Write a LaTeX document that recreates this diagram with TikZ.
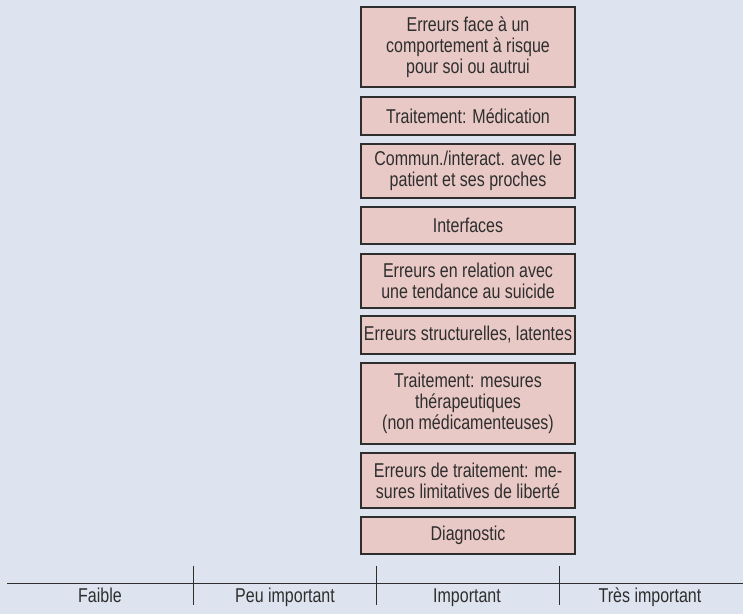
\documentclass[tikz,border=0pt]{standalone}
\usepackage{fontspec}
\setmainfont{Liberation Sans}[FakeStretch=0.8]
\definecolor{bgblue}{HTML}{DEE4EF}
\definecolor{boxfill}{HTML}{E8C9C5}
\definecolor{inkgray}{HTML}{2E2E2E}
\tikzset{
  errbox/.style={draw=inkgray, line width=1.2pt, fill=boxfill, minimum width=214pt,
    inner sep=0pt, align=center, font=\fontsize{20}{21}\selectfont, text=inkgray},
  axisline/.style={draw=inkgray, line width=1pt},
  scalelabel/.style={font=\fontsize{20}{21}\selectfont, text=inkgray, anchor=base}
}
\begin{document}
\begin{tikzpicture}[x=1pt,y=-1pt]
  \fill[bgblue] (0,0) rectangle (743,614);
  \useasboundingbox (0,0) rectangle (743,614);
  % error categories, stacked
  \node[errbox, minimum height=80pt] (b1) at (468,47) {Erreurs face à un\\comportement à risque\\pour soi ou autrui};
  \node[errbox, minimum height=38pt] (b2) at (468,116) {Traitement: Médication};
  \node[errbox, minimum height=54pt] (b3) at (468,171) {Commun./interact. avec le\\patient et ses proches};
  \node[errbox, minimum height=37pt] (b4) at (468,225.5) {Interfaces};
  \node[errbox, minimum height=54pt] (b5) at (468,281) {Erreurs en relation avec\\une tendance au suicide};
  \node[errbox, minimum height=38pt] (b6) at (468,335) {Erreurs structurelles, latentes};
  \node[errbox, minimum height=81pt] (b7) at (468,403.5) {Traitement: mesures\\thérapeutiques\\(non médicamenteuses)};
  \node[errbox, minimum height=55pt] (b8) at (468,480.5) {Erreurs de traitement: me-\\sures limitatives de liberté};
  \node[errbox, minimum height=37pt] (b9) at (468,535.5) {Diagnostic};
  % importance scale
  \coordinate (axL) at (7,583);
  \coordinate (axR) at (743,583);
  \coordinate (t1a) at (193,566); \coordinate (t1b) at (193,605);
  \coordinate (t2a) at (376,566); \coordinate (t2b) at (376,605);
  \coordinate (t3a) at (559,566); \coordinate (t3b) at (559,605);
  \draw[axisline] (axL) -- (axR);
  \draw[axisline] (t1a) -- (t1b);
  \draw[axisline] (t2a) -- (t2b);
  \draw[axisline] (t3a) -- (t3b);
  \node[scalelabel] (l1) at (100,602) {Faible};
  \node[scalelabel] (l2) at (285,602) {Peu important};
  \node[scalelabel] (l3) at (467,602) {Important};
  \node[scalelabel] (l4) at (650,602) {Très important};
\end{tikzpicture}
\end{document}
